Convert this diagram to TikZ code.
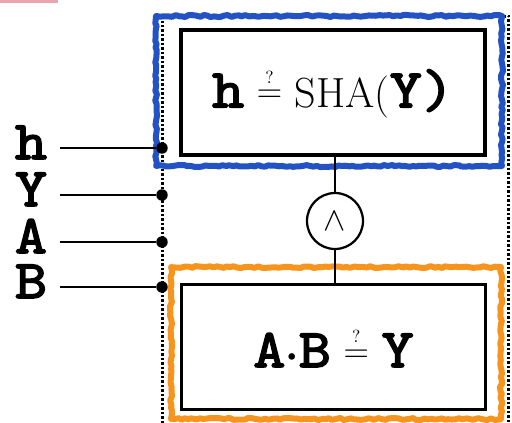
\documentclass[tikz,border=0pt]{standalone}
\usepackage{fontspec}
\usepackage{fix-cm}
\usepackage{tikz}
\usetikzlibrary{positioning, decorations.pathmorphing}
\usepackage{amsmath}
\newfontfamily\slabfont[FakeBold=2.8, FakeStretch=1.12]{lmmono10-regular.otf}
\definecolor{shaBlue}{HTML}{2352C4}
\definecolor{prodOrange}{HTML}{F7941D}
\definecolor{stripPink}{HTML}{E9A6AE}
\newcommand{\slab}[1]{{\slabfont\fontsize{31}{36}\selectfont #1}}
\newcommand{\qeq}{\raisebox{2.5pt}{\fontsize{20}{20}\selectfont$\stackrel{\scriptscriptstyle ?}{=}$}}
\newcommand{\mdot}{{\boldmath$\mathord{\cdot}$}}

\begin{document}
\begin{tikzpicture}[x=0.02cm, y=-0.02cm,
    checkbox/.style={rectangle, draw=black, line width=0.065cm, minimum width=6.08cm,
                     minimum height=2.5cm, inner sep=0pt, font=\fontsize{24}{28}\selectfont},
    andgate/.style={circle, draw=black, line width=0.045cm, minimum size=1.12cm,
                    inner sep=0pt, font=\fontsize{19}{23}\selectfont},
    pindot/.style={circle, fill=black, minimum size=0.23cm, inner sep=0pt},
    inlabel/.style={anchor=base, inner sep=0pt},
    wire/.style={draw=black, line width=0.05cm},
    crayon/.style={line width=0.12cm, line join=round,
                   decorate, decoration={random steps, segment length=2pt, amplitude=0.6pt}},
  ]
    \useasboundingbox (0,0) rectangle (512,423);
    \fill[stripPink] (0,0) rectangle (58,2.5);

    % ─── dotted frame round the whole check ───
    \draw[line width=0.06cm, dash pattern=on 0.05cm off 0.04cm] (163,16) rectangle (509,424);

    % ─── coloured crayon frames ───
    \draw[crayon, shaBlue] (156,16) rectangle (502,166);
    \draw[crayon, prodOrange] (171,267) rectangle (501,419);

    % ─── the two checks and the AND gate ───
    \node[checkbox, fill=white] (hash) at (333,92.5)
      {\slab{h} \qeq{} SHA(\slab{Y)}};
    \node[checkbox, fill=white] (prod) at (333.5,347)
      {\slab{A}\mdot\slab{B} \qeq{} \slab{Y}};
    \node[andgate] (gate) at (335,221) {$\wedge$};
    \draw[wire] (gate.north) -- (gate.north |- hash.south);
    \draw[wire] (gate.south) -- (gate.south |- prod.north);

    % ─── inputs on the left ───
    \foreach \n/\y in {h/148, Y/195, A/242, B/287}{
      \node[inlabel] (l\n) at (31,\y+11) {\slab{\n}};
      \coordinate (s\n) at (60,\y);
      \node[pindot] (d\n) at (162,\y) {};
      \draw[wire] (s\n) -- (d\n);
    }
  \end{tikzpicture}
\end{document}
